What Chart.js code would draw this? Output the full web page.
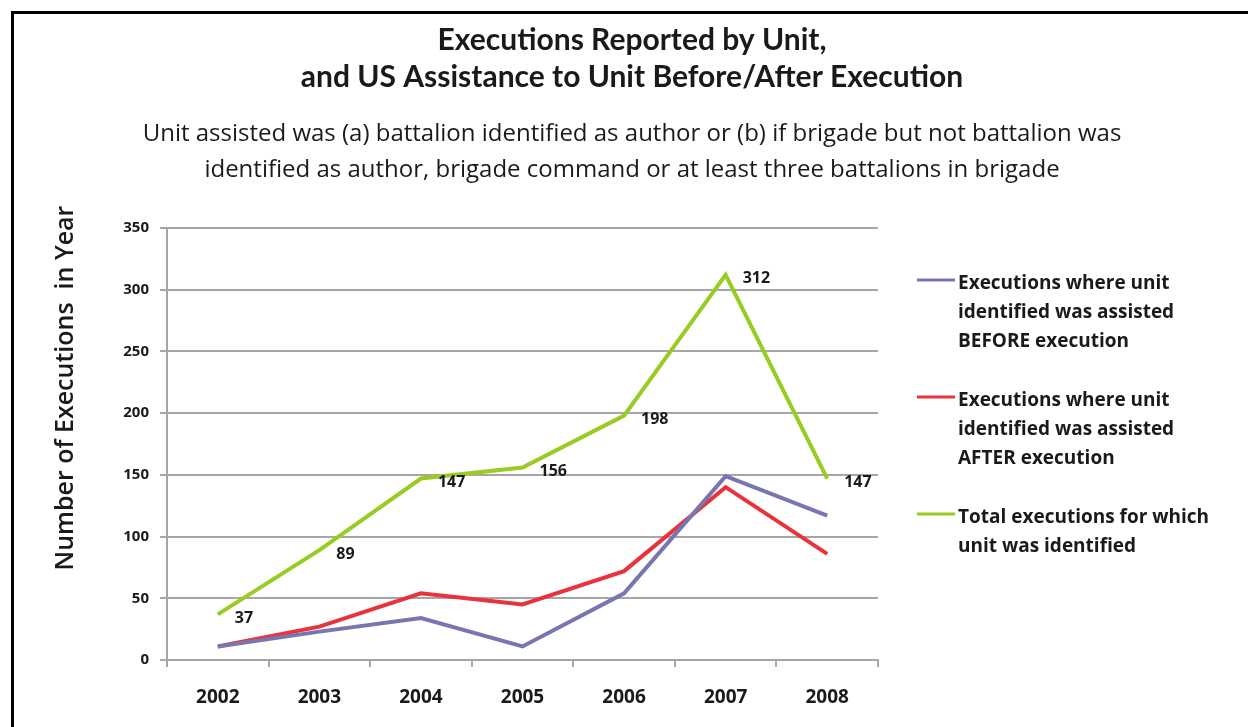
<!DOCTYPE html>
<html>
<head>
<meta charset="utf-8">
<script src="https://cdn.jsdelivr.net/npm/chart.js@4.4.1/dist/chart.umd.min.js"></script>
<style>
  html, body { margin: 0; padding: 0; background: #fff; overflow: hidden; }
  #wrap { position: relative; width: 1248px; height: 727px; }
  #frame { position: absolute; left: 11px; top: 11px; width: 1400px; height: 900px;
           border: 3px solid #000; pointer-events: none; }
</style>
</head>
<body>
<div id="wrap">
  <canvas id="execChart" width="1248" height="727"></canvas>
  <div id="frame"></div>
</div>
<script>
const years = ['2002', '2003', '2004', '2005', '2006', '2007', '2008'];
const assistedBefore = [11, 23, 34, 11, 54, 149, 117];
const assistedAfter = [11, 27, 54, 45, 72, 140, 86];
const totalIdentified = [37, 89, 147, 156, 198, 312, 147];
const yTicks = [0, 50, 100, 150, 200, 250, 300, 350];

const legendLabels = [
  ['Executions where unit', 'identified was assisted', 'BEFORE execution'],
  ['Executions where unit', 'identified was assisted', 'AFTER execution'],
  ['Total executions for which', 'unit was identified']
];

const TITLE_FONT = 'Lato, Calibri, sans-serif';
const FONT = '"Open Sans", Calibri, sans-serif';
const TEXT = '#1a1a1a';
const GRID = '#a6a6a6';

// value labels next to the green line
const valueLabels = {
  id: 'valueLabels',
  afterDatasetsDraw(chart) {
    const ctx = chart.ctx;
    const meta = chart.getDatasetMeta(2);
    ctx.save();
    ctx.font = 'bold 16px ' + FONT;
    ctx.fillStyle = TEXT;
    ctx.textAlign = 'left';
    ctx.textBaseline = 'middle';
    meta.data.forEach((pt, i) => {
      ctx.fillText(String(totalIdentified[i]), pt.x + 17, pt.y + 4);
    });
    ctx.restore();
  }
};

// y axis title and multi-line legend on the right
const extras = {
  id: 'extras',
  afterDraw(chart) {
    const ctx = chart.ctx;
    ctx.save();
    ctx.translate(66, 388);
    ctx.rotate(-Math.PI / 2);
    ctx.font = '600 25px ' + FONT;
    ctx.fillStyle = TEXT;
    ctx.textAlign = 'center';
    ctx.textBaseline = 'middle';
    ctx.fillText('Number of Executions  in Year', 0, 0);
    ctx.restore();

    const area = chart.chartArea;
    const lineX0 = area.right + 39;
    const lineX1 = area.right + 77;
    const textX = area.right + 80;
    let y = 284;
    ctx.save();
    ctx.font = 'bold 19px ' + FONT;
    ctx.textAlign = 'left';
    ctx.textBaseline = 'middle';
    chart.data.datasets.forEach((ds, i) => {
      ctx.strokeStyle = ds.borderColor;
      ctx.lineWidth = 3;
      ctx.beginPath();
      ctx.moveTo(lineX0, y - 4);
      ctx.lineTo(lineX1, y - 4);
      ctx.stroke();
      ctx.fillStyle = TEXT;
      legendLabels[i].forEach((line, j) => ctx.fillText(line, textX, y + j * 29));
      y += 117;
    });
    ctx.restore();
  }
};

new Chart(document.getElementById('execChart'), {
  type: 'line',
  data: {
    labels: years,
    datasets: [
      { label: legendLabels[0].join(' '), data: assistedBefore, borderColor: '#7876b0' },
      { label: legendLabels[1].join(' '), data: assistedAfter, borderColor: '#e8323c' },
      { label: legendLabels[2].join(' '), data: totalIdentified, borderColor: '#99cc22' }
    ].map(ds => Object.assign(ds, { borderWidth: 4, pointRadius: 0, tension: 0, fill: false }))
  },
  options: {
    responsive: false,
    animation: false,
    layout: { padding: { left: 16, right: 0, top: 0, bottom: 7 } },
    plugins: {
      legend: { display: false },
      tooltip: { enabled: false },
      title: {
        display: true,
        text: ['Executions Reported by Unit,', 'and US Assistance to Unit Before/After Execution'],
        color: TEXT,
        font: { family: TITLE_FONT, size: 30, weight: 'bold', lineHeight: 1.233 },
        padding: { top: 21.5, bottom: 11 }
      },
      subtitle: {
        display: true,
        text: ['Unit assisted was (a) battalion identified as author or (b) if brigade but not battalion was',
               'identified as author, brigade command or at least three battalions in brigade'],
        color: TEXT,
        font: { family: FONT, size: 24, lineHeight: 1.5 },
        padding: { top: 10, bottom: 39.5 }
      }
    },
    scales: {
      x: {
        offset: true,
        grid: { drawOnChartArea: false, drawTicks: true, tickLength: 7, color: GRID, lineWidth: 2, offset: true },
        border: { display: true, color: GRID, width: 2 },
        ticks: { color: TEXT, padding: 19, font: { family: FONT, size: 19, weight: 'bold' } },
        afterFit: s => { s.height = 60; }
      },
      y: {
        min: 0,
        max: 350,
        afterBuildTicks: s => { s.ticks = yTicks.map(v => ({ value: v })); },
        grid: { color: GRID, lineWidth: 2, tickLength: 7 },
        border: { display: true, color: GRID, width: 2 },
        ticks: { color: TEXT, padding: 11, font: { family: FONT, size: 15, weight: 'bold' } },
        afterFit: s => { s.width = 151; }
      },
      // empty right-hand axis that reserves the room used by the legend
      legendRoom: {
        position: 'right',
        min: 0,
        max: 350,
        grid: { display: false },
        border: { display: false },
        ticks: { display: false },
        afterFit: s => { s.width = 370; }
      }
    }
  },
  plugins: [valueLabels, extras]
});
</script>
</body>
</html>
